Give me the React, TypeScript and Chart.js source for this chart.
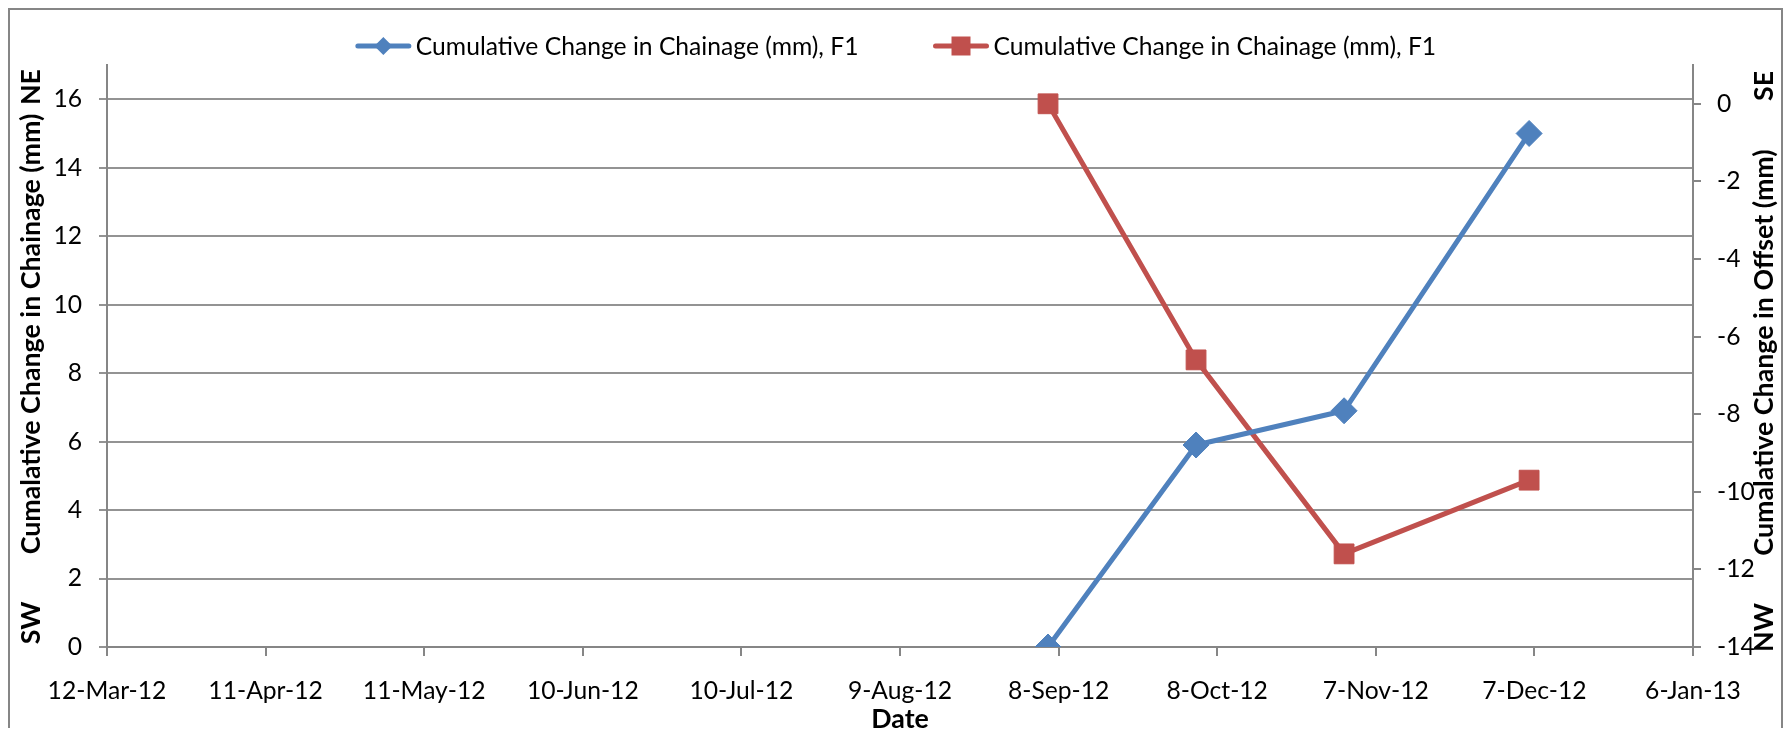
import React, { useEffect, useRef } from 'react';
import { Chart, registerables } from 'chart.js';

Chart.register(...registerables);

// ---------- data ----------
const xTickLabels = ['12-Mar-12', '11-Apr-12', '11-May-12', '10-Jun-12', '10-Jul-12', '9-Aug-12', '8-Sep-12', '8-Oct-12', '7-Nov-12', '7-Dec-12', '6-Jan-13'];
const surveyDates = ['2012-09-06', '2012-10-04', '2012-11-01', '2012-12-06'];
const chainageValues = [0, 5.9, 6.9, 15.0];
const offsetValues = [0, -6.6, -11.6, -9.7];
const leftTickValues = [0, 2, 4, 6, 8, 10, 12, 14, 16];
const rightTickValues = [-14, -12, -10, -8, -6, -4, -2, 0];
const legendLabels = ['Cumulative Change in Chainage (mm), F1', 'Cumulative Change in Chainage (mm), F1'];
const leftAxisTitle = 'Cumalative Change in Chainage (mm)';
const rightAxisTitle = 'Cumalative Change in Offset (mm)';
const xAxisTitle = 'Date';
const leftDirections = ['NE', 'SW'];
const rightDirections = ['SE', 'NW'];

// ---------- helpers ----------
const MONTHS = ['Jan', 'Feb', 'Mar', 'Apr', 'May', 'Jun', 'Jul', 'Aug', 'Sep', 'Oct', 'Nov', 'Dec'];
const isoToDay = (iso: string) => {
  const [y, m, d] = iso.split('-').map(Number);
  return Date.UTC(y, m - 1, d) / 864e5;
};
const labelToDay = (s: string) => {
  const [d, mon, yy] = s.split('-');
  return Date.UTC(2000 + Number(yy), MONTHS.indexOf(mon), Number(d)) / 864e5;
};
const xTickValues = xTickLabels.map(labelToDay);

const W = 1776;
const H = 728;
const FONT = 'Lato';
const BLUE = '#4F81BD';
const RED = '#C0504D';
const GRID = '#939393';
const AXIS = '#868686';

export default function App() {
  const ref = useRef<HTMLCanvasElement | null>(null);

  useEffect(() => {
    let chart: Chart | null = null;
    let cancelled = false;
    document.documentElement.style.overflow = 'hidden';

    const build = () => {
      if (cancelled || !ref.current) return;
      const mctx = document.createElement('canvas').getContext('2d')!;
      const fit = (text: string, weight: string, target: number) => {
        mctx.font = `${weight} 100px ${FONT}`;
        return (100 * target) / mctx.measureText(text).width;
      };
      const baseSize = fit(legendLabels[0], 'normal', 443);
      const boldSize = fit(leftAxisTitle, 'bold', 441);
      const tickFont = { family: FONT, size: baseSize, lineHeight: 1.2 };

      const decor = {
        id: 'decor',
        afterDraw(c: Chart) {
          const ctx = c.ctx;
          const a = c.chartArea;
          ctx.save();
          // outer border
          ctx.strokeStyle = AXIS;
          ctx.lineWidth = 2;
          ctx.strokeRect(1, 1, W - 3, H + 20);

          // legend
          ctx.font = `normal ${baseSize}px ${FONT}`;
          ctx.textBaseline = 'middle';
          ctx.textAlign = 'left';
          const lineLen = 55, gap = 5, itemGap = 75;
          const widths = legendLabels.map((t) => ctx.measureText(t).width);
          const total = lineLen * 2 + gap * 2 + widths[0] + widths[1] + itemGap;
          let x = W / 2 - total / 2;
          const y = 38;
          const colors = [BLUE, RED];
          legendLabels.forEach((t, i) => {
            ctx.strokeStyle = colors[i];
            ctx.fillStyle = colors[i];
            ctx.lineWidth = 5;
            ctx.lineCap = 'round';
            ctx.beginPath();
            ctx.moveTo(x + 2, y);
            ctx.lineTo(x + lineLen - 2, y);
            ctx.stroke();
            const cx = x + lineLen / 2;
            ctx.beginPath();
            if (i === 0) {
              const r = 9;
              ctx.moveTo(cx, y - r);
              ctx.lineTo(cx + r, y);
              ctx.lineTo(cx, y + r);
              ctx.lineTo(cx - r, y);
              ctx.closePath();
            } else {
              const s = 9.5;
              ctx.rect(cx - s, y - s, 2 * s, 2 * s);
            }
            ctx.fill();
            ctx.fillStyle = '#000';
            ctx.fillText(t, x + lineLen + gap, y + 1);
            x += lineLen + gap + widths[i] + itemGap;
          });

          // axis titles
          ctx.font = `bold ${boldSize}px ${FONT}`;
          ctx.fillStyle = '#000';
          ctx.textAlign = 'center';
          ctx.textBaseline = 'middle';
          const rot = (text: string, px: number, py: number) => {
            ctx.save();
            ctx.translate(px, py);
            ctx.rotate(-Math.PI / 2);
            ctx.fillText(text, 0, 0);
            ctx.restore();
          };
          const lx = a.left - 76;
          rot(leftAxisTitle, lx, 326);
          rot(leftDirections[0], lx, 79);
          rot(leftDirections[1], lx, 615);
          const rx = a.right + 71;
          rot(rightAxisTitle, rx, 344.5);
          rot(rightDirections[0], rx, 78);
          rot(rightDirections[1], rx, 619.5);
          ctx.fillText(xAxisTitle, (a.left + a.right) / 2, 711);
          ctx.restore();
        },
      };

      chart = new Chart(ref.current, {
        type: 'line',
        data: {
          datasets: [
            {
              label: legendLabels[0],
              data: surveyDates.map((d, i) => ({ x: isoToDay(d), y: chainageValues[i] })),
              yAxisID: 'yL',
              borderColor: BLUE,
              backgroundColor: BLUE,
              borderWidth: 5,
              borderCapStyle: 'round',
              borderJoinStyle: 'round',
              pointStyle: 'rectRot',
              pointRadius: 13,
              pointBorderWidth: 1,
              pointBackgroundColor: BLUE,
              pointBorderColor: BLUE,
              tension: 0,
            },
            {
              label: legendLabels[1],
              data: surveyDates.map((d, i) => ({ x: isoToDay(d), y: offsetValues[i] })),
              yAxisID: 'yR',
              borderColor: RED,
              backgroundColor: RED,
              borderWidth: 5,
              borderCapStyle: 'round',
              borderJoinStyle: 'round',
              pointStyle: 'rect',
              pointRadius: 14,
              pointBorderWidth: 1,
              pointBackgroundColor: RED,
              pointBorderColor: RED,
              tension: 0,
            },
          ],
        },
        options: {
          responsive: false,
          animation: false,
          devicePixelRatio: 1,
          layout: { padding: { top: 57, left: 0, right: 0, bottom: 0 } },
          plugins: { legend: { display: false }, tooltip: { enabled: false }, title: { display: false } },
          scales: {
            x: {
              type: 'linear',
              position: 'bottom',
              min: xTickValues[0],
              max: xTickValues[xTickValues.length - 1],
              afterBuildTicks: (s: any) => {
                s.ticks = xTickValues.map((v) => ({ value: v }));
              },
              afterFit: (s: any) => {
                s.height = 89;
              },
              grid: { display: true, drawOnChartArea: false, drawTicks: true, tickLength: 9, color: AXIS, lineWidth: 2 },
              border: { display: true, color: AXIS, width: 2 },
              ticks: {
                font: tickFont,
                color: '#000',
                padding: 35 - baseSize * 0.6,
                maxRotation: 0,
                minRotation: 0,
                autoSkip: false,
                callback: (v: any) => {
                  const i = xTickValues.indexOf(Number(v));
                  return i >= 0 ? xTickLabels[i] : '';
                },
              },
            },
            yL: {
              type: 'linear',
              position: 'left',
              min: 0,
              max: 17,
              afterBuildTicks: (s: any) => {
                s.ticks = leftTickValues.map((v) => ({ value: v }));
              },
              afterFit: (s: any) => {
                s.width = 99;
              },
              grid: { display: true, drawOnChartArea: true, drawTicks: true, tickLength: 8, color: GRID, lineWidth: 2 },
              border: { display: true, color: AXIS, width: 2 },
              ticks: { font: tickFont, color: '#000', padding: 17, callback: (v: any) => String(v) },
            },
            yR: {
              type: 'linear',
              position: 'right',
              min: -14,
              max: 1,
              afterBuildTicks: (s: any) => {
                s.ticks = rightTickValues.map((v) => ({ value: v }));
              },
              afterFit: (s: any) => {
                s.width = 91;
              },
              grid: { display: true, drawOnChartArea: false, drawTicks: true, tickLength: 8, color: AXIS, lineWidth: 2 },
              border: { display: true, color: AXIS, width: 2 },
              ticks: { font: tickFont, color: '#000', padding: 16, callback: (v: any) => String(v) },
            },
          },
        },
        plugins: [decor],
      } as any);
    };

    const fontsReady = (document as any).fonts
      ? Promise.all([
          (document as any).fonts.load(`24px ${FONT}`),
          (document as any).fonts.load(`bold 24px ${FONT}`),
        ]).catch(() => null)
      : Promise.resolve(null);
    fontsReady.then(build);

    return () => {
      cancelled = true;
      if (chart) chart.destroy();
    };
  }, []);

  return (
    <div>
      <canvas ref={ref} width={W} height={H} style={{ display: 'block', width: W, height: H, marginBottom: -8 }} />
    </div>
  );
}
